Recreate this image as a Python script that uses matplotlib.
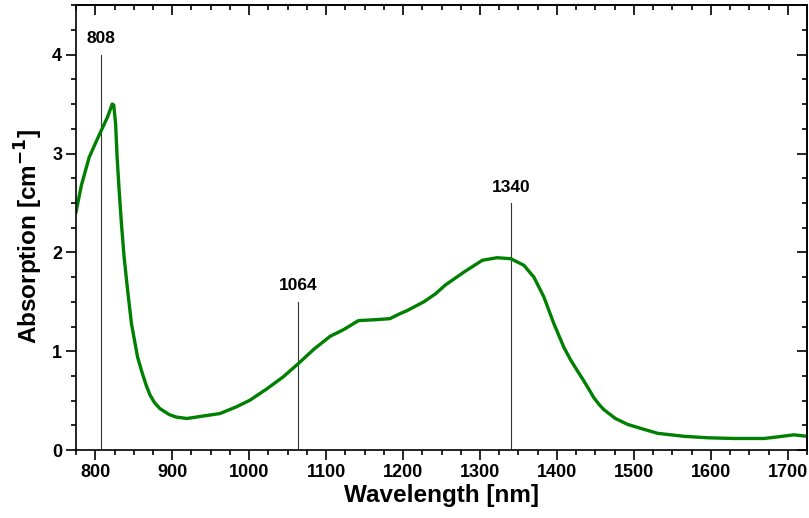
import matplotlib
matplotlib.use("Agg")
import matplotlib.pyplot as plt
from matplotlib.ticker import MultipleLocator

# Espectro de absorcion
wavelength = [775, 782, 792, 800, 807, 816, 822, 824, 826.4, 828.4, 831, 834,
              837.5, 842, 847, 855, 861, 866, 871, 877, 884, 896, 905, 919, 936,
              962, 984, 1001, 1023, 1044, 1064, 1084, 1105, 1123, 1142, 1166,
              1183, 1196, 1205, 1227, 1242, 1255, 1279, 1303, 1322, 1340, 1357,
              1370, 1383, 1396, 1409, 1418, 1426, 1435, 1442, 1448, 1455, 1461,
              1476, 1492, 1509, 1531, 1565, 1596, 1630, 1669, 1687, 1708, 1725]
absorption = [2.41, 2.68, 2.96, 3.10, 3.22, 3.37, 3.50, 3.49, 3.30, 2.96, 2.63,
              2.29, 1.95, 1.62, 1.28, 0.94, 0.78, 0.66, 0.56, 0.48, 0.42, 0.36,
              0.335, 0.32, 0.34, 0.37, 0.44, 0.505, 0.62, 0.74, 0.876, 1.02,
              1.15, 1.22, 1.31, 1.32, 1.33, 1.38, 1.41, 1.50, 1.58, 1.67, 1.80,
              1.92, 1.946, 1.936, 1.87, 1.75, 1.55, 1.28, 1.04, 0.91, 0.81, 0.70,
              0.61, 0.53, 0.46, 0.41, 0.32, 0.26, 0.22, 0.17, 0.14, 0.125, 0.118,
              0.118, 0.134, 0.155, 0.14]

# Lineas de laser
laser_nm = [808, 1064, 1340]
laser_top = [4.0, 1.5, 2.5]
laser_labels = ["808", "1064", "1340"]

plt.rcParams["font.family"] = ["Liberation Sans", "DejaVu Sans"]
plt.rcParams["font.weight"] = "bold"
plt.rcParams["mathtext.default"] = "bf"

fig = plt.figure(figsize=(8.09, 5.18), dpi=100)
ax = fig.add_axes([0.094, 0.131, 0.9035, 0.859])

for x, top, lab in zip(laser_nm, laser_top, laser_labels):
    ax.plot([x, x], [0, top], color="#333333", lw=0.8, zorder=1)
    ax.annotate(lab, (x, top), xytext=(0, 6), textcoords="offset points",
                ha="center", va="bottom", fontsize=12.5, fontweight="bold")

ax.plot(wavelength, absorption, color="#008000", lw=2.4, zorder=2,
        solid_joinstyle="round")

ax.set_xlim(775, 1725)
ax.set_ylim(0, 4.5)
ax.xaxis.set_major_locator(MultipleLocator(100))
ax.xaxis.set_minor_locator(MultipleLocator(25))
ax.yaxis.set_major_locator(MultipleLocator(1))
ax.yaxis.set_minor_locator(MultipleLocator(0.25))

for s in ax.spines.values():
    s.set_linewidth(1.2)

ax.tick_params(which="major", direction="out", length=7, width=1.2,
               labelsize=13, pad=3)
ax.tick_params(which="minor", direction="out", length=3.6, width=1.2)

# ejes espejo con marcas hacia dentro
top = ax.secondary_xaxis("top")
top.xaxis.set_major_locator(MultipleLocator(100))
top.xaxis.set_minor_locator(MultipleLocator(25))
top.tick_params(which="major", direction="in", length=7, width=1.2, labeltop=False)
top.tick_params(which="minor", direction="in", length=3.6, width=1.2)
right = ax.secondary_yaxis("right")
right.yaxis.set_major_locator(MultipleLocator(1))
right.yaxis.set_minor_locator(MultipleLocator(0.25))
right.tick_params(which="major", direction="in", length=7, width=1.2, labelright=False)
right.tick_params(which="minor", direction="in", length=3.6, width=1.2)
for s in list(top.spines.values()) + list(right.spines.values()):
    s.set_linewidth(1.2)

for lab in ax.get_xticklabels() + ax.get_yticklabels():
    lab.set_fontweight("bold")

ax.set_xlabel("Wavelength [nm]", fontsize=17.5, fontweight="bold", labelpad=2)
ax.set_ylabel("Absorption [cm$^{-1}$]", fontsize=17.5, fontweight="bold")
ax.yaxis.set_label_coords(-0.043, 0.48)

fig.savefig("out.png", dpi=100)
